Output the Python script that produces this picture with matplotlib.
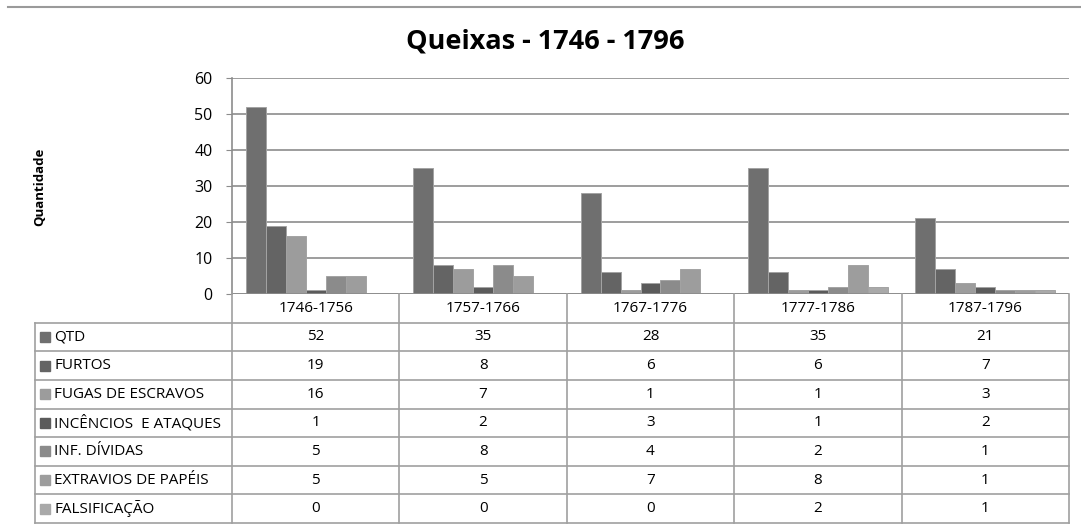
import matplotlib.pyplot as plt
import numpy as np
from matplotlib.lines import Line2D

plt.rcParams['font.family'] = ['Open Sans', 'DejaVu Sans']

periods = ['1746-1756', '1757-1766', '1767-1776', '1777-1786', '1787-1796']
series = ['QTD', 'FURTOS', 'FUGAS DE ESCRAVOS', 'INCÊNCIOS  E ATAQUES',
          'INF. DÍVIDAS', 'EXTRAVIOS DE PAPÉIS', 'FALSIFICAÇÃO']
qtd = [52, 35, 28, 35, 21]
furtos = [19, 8, 6, 6, 7]
fugas = [16, 7, 1, 1, 3]
incendios = [1, 2, 3, 1, 2]
dividas = [5, 8, 4, 2, 1]
extravios = [5, 5, 7, 8, 1]
falsificacao = [0, 0, 0, 2, 1]
values = [qtd, furtos, fugas, incendios, dividas, extravios, falsificacao]
colors = ['#6f6f6f', '#646464', '#9c9c9c', '#5b5b5b', '#8b8b8b', '#9d9d9d', '#a9a9a9']

W, H = 1081, 526
fig = plt.figure(figsize=(W / 100, H / 100), dpi=100)

def px(x0, y0, x1, y1):
    # pixel box (top-left origin) -> figure fraction rect
    return [x0 / W, 1 - y1 / H, (x1 - x0) / W, (y1 - y0) / H]

grid_c = '#8c8c8c'
line_c = '#a0a0a0'

# ---- bar chart ----
ax = fig.add_axes(px(232, 78, 1069, 294))
n = len(periods)
k = len(series)
bw = 0.836 / k
x = np.arange(n)
for i, (vals, c) in enumerate(zip(values, colors)):
    ax.bar(x - 0.418 + bw * (i + 0.5), vals, width=bw, color=c,
           edgecolor='#a3a3a3', linewidth=0.7, zorder=3)
ax.set_xlim(-0.5, n - 0.5)
ax.set_ylim(0, 60)
ax.set_yticks(range(0, 61, 10))
ax.yaxis.grid(True, color=grid_c, linewidth=1.2, zorder=0)
ax.set_xticks([])
for s in ['top', 'right', 'bottom']:
    ax.spines[s].set_visible(False)
ax.spines['left'].set_color(grid_c)
ax.spines['left'].set_linewidth(1.2)
ax.tick_params(axis='y', length=4, color=grid_c, labelsize=11.5, pad=10)
ax.axhline(0, color=grid_c, linewidth=1.2, zorder=4)

fig.text(545 / W, 1 - 41 / H, 'Queixas - 1746 - 1796', ha='center', va='center',
         fontsize=19.5, fontweight='bold')
fig.text(40 / W, 1 - 187 / H, 'Quantidade', ha='center', va='center',
         rotation=90, fontsize=9.5, fontweight='bold')

# top page line
fig.add_artist(Line2D([8 / W, 1], [1 - 7 / H, 1 - 7 / H], color='#9a9a9a', linewidth=1.5))

# ---- data table ----
tab = fig.add_axes(px(35, 294, 1069, 523))
lw = (232 - 35) / ((1069 - 232) / n)
tab.set_xlim(-0.5 - lw, n - 0.5)
nrows = k + 1
tab.set_ylim(nrows, 0)
tab.axis('off')

left = -0.5 - lw
# horizontal lines
for r in range(1, nrows + 1):
    tab.plot([left, n - 0.5], [r, r], color=line_c, lw=1.2, clip_on=False)
# vertical lines
tab.plot([left, left], [1, nrows], color=line_c, lw=1.2, clip_on=False)
for c in range(n + 1):
    tab.plot([c - 0.5, c - 0.5], [0, nrows], color=line_c, lw=1.2, clip_on=False)

fs = 11
for j, p in enumerate(periods):
    tab.text(j, 0.5, p, ha='center', va='center', fontsize=fs)
for i, name in enumerate(series):
    r = i + 1.5
    tab.plot(left + 0.06, r, marker='s', markersize=6.5, color=colors[i],
             linestyle='none', clip_on=False)
    tab.text(left + 0.115, r, name, ha='left', va='center', fontsize=fs)
    for j in range(n):
        tab.text(j, r, str(values[i][j]), ha='center', va='center', fontsize=fs)

fig.savefig('out.png', dpi=100)
